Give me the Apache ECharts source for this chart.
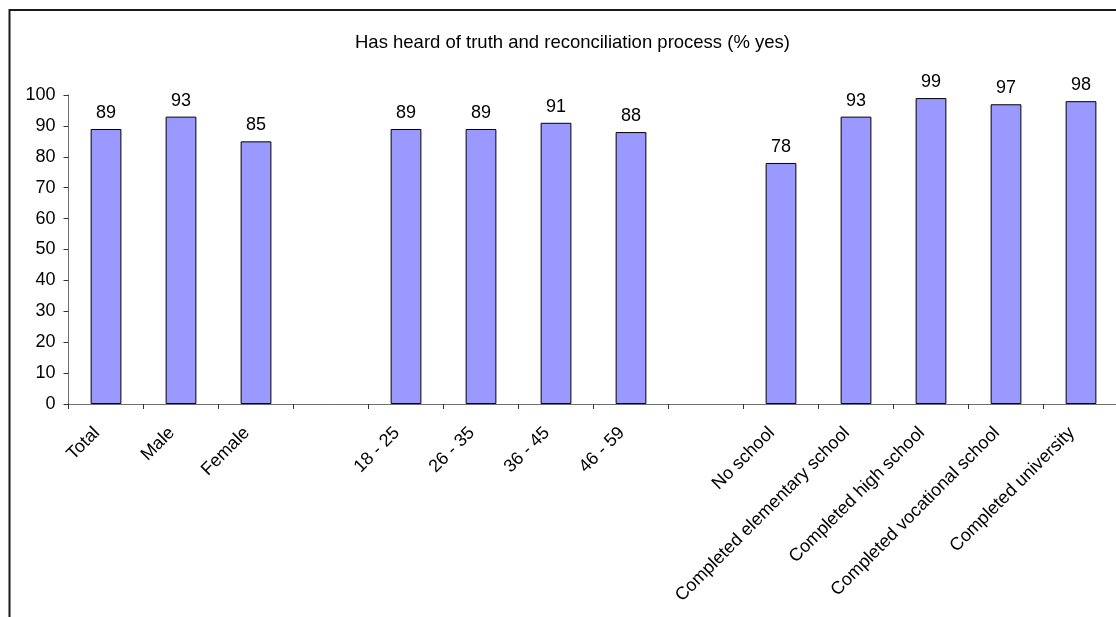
<!DOCTYPE html>
<html>
<head>
<meta charset="utf-8">
<script src="https://cdn.jsdelivr.net/npm/echarts@6/dist/echarts.min.js"></script>
<style>
  html, body { margin: 0; padding: 0; background: #fff; }
  #chart { width: 1116px; height: 617px; }
</style>
</head>
<body>
<div id="chart"></div>
<script>
// categories (blank entries are the gaps between groups)
var categories = ['Total', 'Male', 'Female', '', '18 - 25', '26 - 35', '36 - 45', '46 - 59', '',
  'No school', 'Completed elementary school', 'Completed high school',
  'Completed vocational school', 'Completed university']
var percentYes = [89, 93, 85, null, 89, 89, 91, 88, null, 78, 93, 99, 97, 98]
var yTicks = [0, 10, 20, 30, 40, 50, 60, 70, 80, 90, 100]

var font = '"Liberation Sans", Arial, sans-serif'
var myChart = echarts.init(document.getElementById('chart'))
var option = {
  backgroundColor: '#fff',
  animation: false,
  title: {
    text: 'Has heard of truth and reconciliation process (% yes)',
    left: 350,
    top: 28,
    textStyle: {
      color: '#000',
      fontSize: 18.5,
      fontWeight: 'normal',
      fontFamily: font
    }
  },
  graphic: [
    { // chart frame, only the left and top edges are visible
      type: 'rect',
      shape: { x: 9.5, y: 10, width: 1300, height: 800 },
      style: { fill: 'none', stroke: '#1a1a1a', lineWidth: 2 },
      silent: true
    }
  ],
  grid: {
    left: 68.5,
    right: -2.5,
    top: 95,
    bottom: 213,
    containLabel: false,
    outerBoundsMode: 'none'
  },
  xAxis: {
    type: 'category',
    data: categories,
    axisLine: { show: true, lineStyle: { color: '#6e6e6e', width: 1 } },
    axisTick: { show: true, length: 5, lineStyle: { color: '#333' } },
    axisLabel: {
      interval: 0,
      rotate: 45,
      margin: 17,
      padding: [0, 13, 0, 0],
      color: '#000',
      fontSize: 18,
      fontFamily: font
    },
    splitLine: { show: false }
  },
  yAxis: {
    type: 'value',
    min: yTicks[0],
    max: yTicks[yTicks.length - 1],
    interval: 10,
    axisLine: { show: true, lineStyle: { color: '#6e6e6e', width: 1 } },
    axisTick: { show: true, length: 5, lineStyle: { color: '#333' } },
    axisLabel: {
      margin: 13,
      color: '#000',
      fontSize: 18,
      fontFamily: font
    },
    splitLine: { show: false }
  },
  series: [
    {
      name: '% yes',
      type: 'bar',
      data: percentYes,
      barWidth: '41%',
      itemStyle: {
        color: '#9999ff',
        borderColor: '#000',
        borderWidth: 1
      },
      label: {
        show: true,
        position: 'top',
        distance: 7,
        color: '#000',
        fontSize: 18,
        fontFamily: font
      }
    }
  ]
}
myChart.setOption(option)
</script>
</body>
</html>
